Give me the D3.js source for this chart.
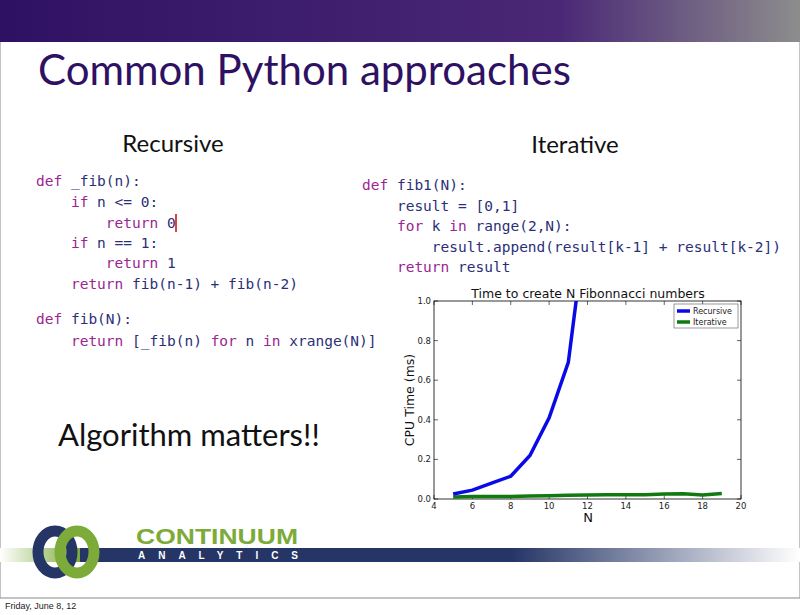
<!DOCTYPE html>
<html><head><meta charset="utf-8">
<script src="https://cdn.jsdelivr.net/npm/d3@7"></script>
<style>body{margin:0;background:#fff}svg{display:block}</style>
</head><body>
<script>
const Ns = [5,6,7,8,9,10,11,12];
const recursive = [0.025,0.045,0.08,0.115,0.22,0.41,0.69,1.45];
const Ni = [5,6,7,8,9,10,11,12,13,14,15,16,17,18,19];
const iterative = [0.01,0.012,0.012,0.013,0.015,0.017,0.019,0.02,0.021,0.022,0.022,0.025,0.026,0.02,0.028];
const xTicks = [4,6,8,10,12,14,16,18,20];
const yTicks = [0,0.2,0.4,0.6,0.8,1.0];

const svg = d3.select("body").append("svg").attr("width",800).attr("height",615);
const defs = svg.append("defs");
const g1 = defs.append("linearGradient").attr("id","hdr");
g1.append("stop").attr("offset","0").attr("stop-color","#2f1163");
g1.append("stop").attr("offset","0.7").attr("stop-color","#4a2876");
g1.append("stop").attr("offset","1").attr("stop-color","#8d8d8d");
const g2 = defs.append("linearGradient").attr("id","band");
g2.append("stop").attr("offset","0").attr("stop-color","#253566");
g2.append("stop").attr("offset","0.6").attr("stop-color","#253566");
g2.append("stop").attr("offset","1").attr("stop-color","#ffffff");
const g3 = defs.append("linearGradient").attr("id","gb");
g3.append("stop").attr("offset","0").attr("stop-color","#ffffff");
g3.append("stop").attr("offset","1").attr("stop-color","#7cab3a");

svg.append("rect").attr("x",0).attr("y",0).attr("width",800).attr("height",598).attr("fill","#fff").attr("stroke","#888");
svg.append("rect").attr("x",0).attr("y",0).attr("width",800).attr("height",42).attr("fill","url(#hdr)");
svg.append("text").attr("x",38).attr("y",85).attr("font-family","Lato, sans-serif").attr("font-size",42).attr("fill","#2f1163").text("Common Python approaches");
svg.append("text").attr("x",173).attr("y",152).attr("text-anchor","middle").attr("font-family","Lato, sans-serif").attr("font-size",24).attr("fill","#111").text("Recursive");
svg.append("text").attr("x",575).attr("y",153).attr("text-anchor","middle").attr("font-family","Lato, sans-serif").attr("font-size",24).attr("fill","#111").text("Iterative");
svg.append("text").attr("x",58).attr("y",446).attr("font-family","Lato, sans-serif").attr("font-size",31).attr("fill","#111").text("Algorithm matters!!");

const KW = /^(def|if|return|for|in)$/;
function code(x, y0, lines){
  lines.forEach((l,i)=>{
    const t = svg.append("text").attr("x",x).attr("y",y0[i]).attr("font-family","DejaVu Sans Mono, monospace").attr("font-size",14.5).attr("xml:space","preserve");
    l.split(/(\b(?:def|if|return|for|in)\b)/).forEach(p=>{
      if(!p) return;
      t.append("tspan").attr("fill",KW.test(p)?"#9b2591":"#2c2f78").text(p);
    });
  });
}
code(36,[186,207,228,248,268,289,324,346],[
 "def _fib(n):","    if n <= 0:","        return 0","    if n == 1:","        return 1","    return fib(n-1) + fib(n-2)","def fib(N):","    return [_fib(n) for n in xrange(N)]"]);
svg.append("line").attr("x1",176).attr("x2",176).attr("y1",214).attr("y2",232).attr("stroke","#d00").attr("stroke-width",1.5);
code(362,[190,211,231,252,272],[
 "def fib1(N):","    result = [0,1]","    for k in range(2,N):","        result.append(result[k-1] + result[k-2])","    return result"]);

// chart
const x = d3.scaleLinear().domain([4,20]).range([434,741]);
const y = d3.scaleLinear().domain([0,1]).range([499,301]);
defs.append("clipPath").attr("id","clip").append("rect").attr("x",434).attr("y",301).attr("width",307).attr("height",198);
const ch = svg.append("g");
ch.append("rect").attr("x",434).attr("y",301).attr("width",307).attr("height",198).attr("fill","none").attr("stroke","#000").attr("stroke-width",0.8);
const fnt = "DejaVu Sans, sans-serif";
xTicks.forEach(v=>{
  ch.append("line").attr("x1",x(v)).attr("x2",x(v)).attr("y1",499).attr("y2",495).attr("stroke","#000").attr("stroke-width",0.6);
  ch.append("line").attr("x1",x(v)).attr("x2",x(v)).attr("y1",301).attr("y2",305).attr("stroke","#000").attr("stroke-width",0.6);
  ch.append("text").attr("x",x(v)).attr("y",509).attr("text-anchor","middle").attr("font-family",fnt).attr("font-size",8.5).attr("fill","#222").text(v);
});
yTicks.forEach(v=>{
  ch.append("line").attr("x1",434).attr("x2",438).attr("y1",y(v)).attr("y2",y(v)).attr("stroke","#000").attr("stroke-width",0.6);
  ch.append("line").attr("x1",741).attr("x2",737).attr("y1",y(v)).attr("y2",y(v)).attr("stroke","#000").attr("stroke-width",0.6);
  ch.append("text").attr("x",431).attr("y",y(v)+3).attr("text-anchor","end").attr("font-family",fnt).attr("font-size",8.5).attr("fill","#222").text(v.toFixed(1));
});
ch.append("text").attr("x",588).attr("y",298).attr("text-anchor","middle").attr("font-family",fnt).attr("font-size",12.5).attr("fill","#111").text("Time to create N Fibonnacci numbers");
ch.append("text").attr("x",588).attr("y",522).attr("text-anchor","middle").attr("font-family",fnt).attr("font-size",13).attr("fill","#111").text("N");
ch.append("text").attr("transform","translate(414,400) rotate(-90)").attr("text-anchor","middle").attr("font-family",fnt).attr("font-size",12.5).attr("fill","#111").text("CPU Time (ms)");
const line = d3.line().x(d=>x(d[0])).y(d=>y(d[1]));
ch.append("path").attr("clip-path","url(#clip)").attr("d",line(Ni.map((n,i)=>[n,iterative[i]]))).attr("fill","none").attr("stroke","#107a10").attr("stroke-width",3.5);
ch.append("path").attr("clip-path","url(#clip)").attr("d",line(Ns.map((n,i)=>[n,recursive[i]]))).attr("fill","none").attr("stroke","#0a0ae6").attr("stroke-width",3.5);
ch.append("rect").attr("x",674).attr("y",304).attr("width",64).attr("height",24).attr("fill","#fff").attr("stroke","#555").attr("stroke-width",0.6);
[["Recursive","#0a0ae6",311],["Iterative","#107a10",322]].forEach(([t,c,yy])=>{
  ch.append("line").attr("x1",677).attr("x2",690).attr("y1",yy).attr("y2",yy).attr("stroke",c).attr("stroke-width",3.5);
  ch.append("text").attr("x",693).attr("y",yy+3).attr("font-family",fnt).attr("font-size",8).attr("fill","#222").text(t);
});

// logo
svg.append("rect").attr("x",0).attr("y",548).attr("width",80).attr("height",14).attr("fill","url(#gb)");
svg.append("rect").attr("x",80).attr("y",548).attr("width",720).attr("height",14).attr("fill","url(#band)");
svg.append("ellipse").attr("cx",55).attr("cy",552).attr("rx",17).attr("ry",21).attr("fill","none").attr("stroke","#253566").attr("stroke-width",11);
svg.append("ellipse").attr("cx",77).attr("cy",552).attr("rx",17).attr("ry",21).attr("fill","none").attr("stroke","#7cab3a").attr("stroke-width",11);
svg.append("text").attr("x",136).attr("y",544).attr("font-family","Liberation Sans Narrow, Liberation Sans, sans-serif").attr("font-weight","bold").attr("font-size",22).attr("fill","#7cab3a").attr("textLength",162).attr("lengthAdjust","spacingAndGlyphs").text("CONTINUUM");
svg.append("text").attr("x",138).attr("y",559).attr("font-family","Liberation Sans, sans-serif").attr("font-weight","bold").attr("font-size",10).attr("fill","#fff").attr("textLength",160).text("ANALYTICS");
svg.append("text").attr("x",5).attr("y",609).attr("font-family","Liberation Sans, sans-serif").attr("font-size",9).attr("fill","#222").text("Friday, June 8, 12");
</script>
</body></html>
